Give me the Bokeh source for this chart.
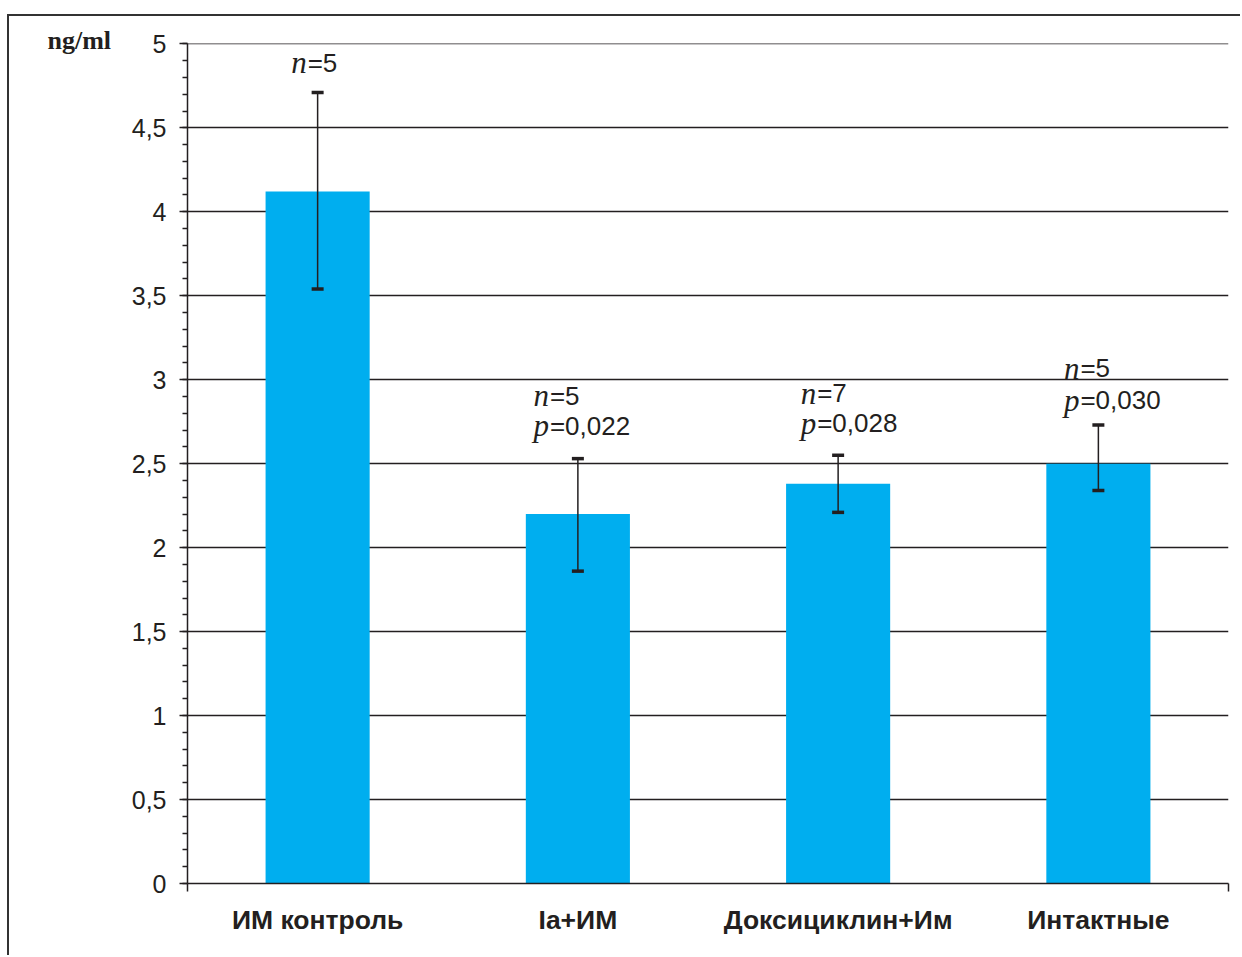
from bokeh.plotting import figure
from bokeh.models import (ColumnDataSource, Range1d, Whisker, TeeHead,
                          LinearAxis, FixedTicker, SingleIntervalTicker,
                          CustomJSTickFormatter)
from bokeh.core.properties import value
from bokeh.embed import file_html
from bokeh.resources import INLINE

# ---------------- data ----------------
categories = ["ИМ контроль", "Ia+ИМ", "Доксициклин+Им", "Интактные"]
means = [4.12, 2.20, 2.38, 2.50]
err_upper = [4.71, 2.53, 2.55, 2.73]
err_lower = [3.54, 1.86, 2.21, 2.34]
n_values = ["5", "5", "7", "5"]
p_values = ["", "0,022", "0,028", "0,030"]
y_ticks = [0, 0.5, 1, 1.5, 2, 2.5, 3, 3.5, 4, 4.5, 5]
y_tick_labels = ["0", "0,5", "1", "1,5", "2", "2,5", "3", "3,5", "4", "4,5", "5"]
unit_label = "ng/ml"

# label placement (screen px, styling only)
label_dx = [-10, -28, -21, -18]
n_dy = [-30, -63, -62, -57]
p_dy = [-33, -33, -32, -25]

DARK = "#231f20"
BAR = "#00AEEF"

# category slots: one unit each, centre at index + 0.5
xpos = [i + 0.5 for i in range(len(categories))]

src = ColumnDataSource(dict(
    x=xpos, cat=categories, mean=means, upper=err_upper, lower=err_lower,
    n_let=["n"] * len(categories), n_eq=["=" + v for v in n_values],
    p_let=["p" if v else "" for v in p_values], p_eq=["=" + v if v else "" for v in p_values],
    dx=label_dx, dx_let=[d - 1 for d in label_dx], ndy=n_dy, pdy=p_dy,
))

p = figure(width=1233, height=941,
           x_range=Range1d(0, len(categories)), y_range=Range1d(0, 5.002),
           output_backend="svg", toolbar_location=None,
           x_axis_location=None,
           min_border_left=178, min_border_right=14, min_border_top=27, min_border_bottom=74)
p.styles = {"margin-left": "7px", "margin-top": "14px",
            "border-left": "2px solid #333333", "border-top": "2px solid #333333"}
p.outline_line_color = None
p.background_fill_color = "white"
p.border_fill_color = "white"

# unit label as a left-aligned title sitting beside the top of the y axis
p.title.text = unit_label
p.title.align = "left"
p.title.offset = -140
p.title.standoff = -23
p.title.text_font = "Liberation Serif"
p.title.text_font_style = "bold"
p.title.text_font_size = "26px"
p.title.text_color = DARK

# y axis
yt = SingleIntervalTicker(interval=0.5, num_minor_ticks=5)
ya = p.yaxis[0]
ya.ticker = yt
ya.formatter = CustomJSTickFormatter(args=dict(yvals=y_ticks, ylabs=y_tick_labels), code="""
    for (let i = 0; i < yvals.length; i++) { if (Math.abs(yvals[i] - tick) < 1e-6) return ylabs[i]; }
    return "";
""")
ya.major_tick_out = 8
ya.major_tick_in = 0
ya.minor_tick_out = 5
ya.minor_tick_in = 0
ya.axis_line_color = DARK
ya.axis_line_width = 1.5
ya.major_tick_line_color = DARK
ya.minor_tick_line_color = DARK
ya.major_tick_line_width = 1.3
ya.minor_tick_line_width = 1.3
ya.major_label_text_font = "Liberation Sans"
ya.major_label_text_font_size = "25px"
ya.major_label_text_color = DARK
ya.major_label_standoff = 13

p.ygrid.ticker = yt
p.ygrid.grid_line_color = DARK
p.ygrid.grid_line_width = 1.3
p.xgrid.grid_line_color = None

# x axis: line with end ticks, then category labels
edge_axis = LinearAxis(ticker=FixedTicker(ticks=[0, len(categories)]),
                       major_tick_out=8, major_tick_in=0, minor_tick_line_color=None,
                       major_label_text_font_size="0px", major_label_standoff=0,
                       axis_line_color=DARK, axis_line_width=1.5,
                       major_tick_line_color=DARK, major_tick_line_width=1.5,
                       formatter=CustomJSTickFormatter(code="return ''"))
p.add_layout(edge_axis, "below")

cat_axis = LinearAxis(ticker=FixedTicker(ticks=xpos),
                      formatter=CustomJSTickFormatter(args=dict(cats=categories),
                                                      code="return cats[Math.floor(tick)]"),
                      axis_line_color=None, major_tick_line_color=None,
                      minor_tick_line_color=None,
                      major_label_text_font="Liberation Sans",
                      major_label_text_font_style="bold",
                      major_label_text_font_size="26.5px",
                      major_label_text_color=DARK,
                      major_label_standoff=7)
p.add_layout(cat_axis, "below")

# bars
p.vbar(x="x", top="mean", width=0.4, source=src, fill_color=BAR, line_color=None)

# error bars
wh = Whisker(source=src, base="x", upper="upper", lower="lower",
             line_color=DARK, line_width=1.5, level="overlay",
             upper_head=TeeHead(size=12, line_color=DARK, line_width=3.5),
             lower_head=TeeHead(size=12, line_color=DARK, line_width=3.5))
p.add_layout(wh)

# annotations n=..., p=...
common_let = dict(text_font=value("Liberation Serif"), text_font_style="italic",
                  text_font_size="31px", text_color=DARK, text_align="right",
                  text_baseline="alphabetic")
common_eq = dict(text_font=value("Liberation Sans"), text_font_size="26px",
                 text_color=DARK, text_align="left", text_baseline="alphabetic")
p.text(x="x", y="upper", text="n_let", x_offset="dx_let", y_offset="ndy", source=src, **common_let)
p.text(x="x", y="upper", text="n_eq", x_offset="dx", y_offset="ndy", source=src, **common_eq)
p.text(x="x", y="upper", text="p_let", x_offset="dx_let", y_offset="pdy", source=src, **common_let)
p.text(x="x", y="upper", text="p_eq", x_offset="dx", y_offset="pdy", source=src, **common_eq)

open("out.html", "w").write(file_html(p, INLINE))
